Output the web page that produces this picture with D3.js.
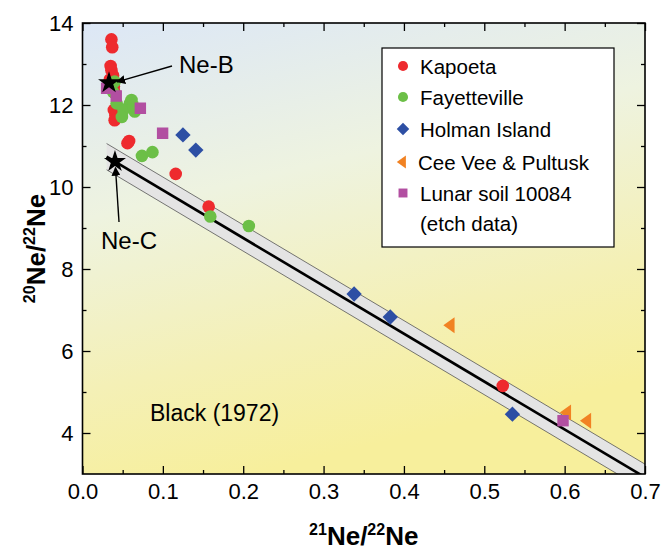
<!DOCTYPE html>
<html><head><meta charset="utf-8">
<script src="https://cdn.jsdelivr.net/npm/d3@7"></script>
<style>body{margin:0;background:#fff}svg{display:block}text{font-family:"Liberation Sans",Arial,sans-serif}</style>
</head><body><svg id="c" width="662" height="550"></svg>
<script>
// ---- data ----
const kapoetaX = [0.036,0.037,0.035,0.036,0.038,0.034,0.039,0.040,0.039,0.041,0.040,0.058,0.056,0.116,0.157,0.523];
const kapoetaY = [13.60,13.41,12.95,12.85,12.72,12.62,12.45,12.30,11.88,11.75,11.63,11.12,11.07,10.32,9.52,5.15];
const fayX = [0.040,0.038,0.0425,0.061,0.059,0.051,0.049,0.065,0.063,0.074,0.087,0.159,0.207];
const fayY = [12.57,12.32,12.04,12.12,12.04,11.88,11.71,11.84,11.98,10.76,10.85,9.28,9.05];
const holmanX = [0.125,0.141,0.338,0.383,0.535];
const holmanY = [11.27,10.90,7.39,6.83,4.46];
const ceeVeeX = [0.457,0.602,0.627];
const ceeVeeY = [6.63,4.50,4.30];
const lunarX = [0.030,0.042,0.072,0.0997,0.598];
const lunarY = [12.41,12.22,11.92,11.31,4.30];
const starNames = ["Ne-B","Ne-C"];
const starX = [0.033,0.0404];
const starY = [12.54,10.62];
const mixLineX = [0.03,0.70];
const mixLineY = [10.74,2.92];
const bandHalf = 0.32;
const xTicks = [0,0.1,0.2,0.3,0.4,0.5,0.6,0.7];
const xMinor = [0.05,0.15,0.25,0.35,0.45,0.55,0.65];
const yTicks = [4,6,8,10,12,14];
const yMinor = [5,7,9,11,13];
const legendLabels = ["Kapoeta","Fayetteville","Holman Island","Cee Vee & Pultusk","Lunar soil 10084","(etch data)"];
const annotation = "Black (1972)";

// ---- drawing ----
const svg = d3.select("#c");
const L=82.5,R=645,T=23,B=474;
const x = d3.scaleLinear().domain([0,0.7]).range([L,R]);
const y = d3.scaleLinear().domain([3,14]).range([B,T]);

const defs = svg.append("defs");
const g = defs.append("linearGradient").attr("id","bg").attr("x1",0).attr("y1",0).attr("x2",0.3).attr("y2",1);
g.append("stop").attr("offset",0).attr("stop-color","#dce7f6");
g.append("stop").attr("offset",0.4).attr("stop-color","#eef3e0");
g.append("stop").attr("offset",0.75).attr("stop-color","#f4f0b6");
g.append("stop").attr("offset",1).attr("stop-color","#f7ef9c");
defs.append("clipPath").attr("id","clip").append("rect").attr("x",L).attr("y",T).attr("width",R-L).attr("height",B-T);
const mk = defs.append("marker").attr("id","arr").attr("viewBox","0 0 10 10").attr("refX",9).attr("refY",5)
  .attr("markerWidth",9).attr("markerHeight",9).attr("markerUnits","userSpaceOnUse").attr("orient","auto");
mk.append("path").attr("d","M0,0L10,5L0,10Z").attr("fill","#000");

svg.append("rect").attr("x",L).attr("y",T).attr("width",R-L).attr("height",B-T).attr("fill","url(#bg)");

const plot = svg.append("g").attr("clip-path","url(#clip)");
// band
const x0=mixLineX[0], x1=mixLineX[1];
const bandPts = [[x0,mixLineY[0]+bandHalf],[x1,mixLineY[1]+bandHalf],[x1,mixLineY[1]-bandHalf],[x0,mixLineY[0]-bandHalf]];
plot.append("path").attr("d","M"+bandPts.map(p=>[x(p[0]),y(p[1])].join(",")).join("L")+"Z")
  .attr("fill","#e4e4e4").attr("stroke","none");
[1,-1].forEach(s=>{
  plot.append("line").attr("x1",x(x0)).attr("y1",y(mixLineY[0]+s*bandHalf)).attr("x2",x(x1)).attr("y2",y(mixLineY[1]+s*bandHalf))
   .attr("stroke","#555").attr("stroke-width",0.8);
});
plot.append("line").attr("x1",x(x0)).attr("y1",y(mixLineY[0])).attr("x2",x(x1)).attr("y2",y(mixLineY[1]))
  .attr("stroke","#000").attr("stroke-width",2.6);

function pts(xs,ys){return xs.map((v,i)=>[v,ys[i]]);}
const sym = {
  circle: d3.symbol().type(d3.symbolCircle).size(125),
  diamond: d3.symbol().type(d3.symbolDiamond2).size(150),
  square: d3.symbol().type(d3.symbolSquare).size(130),
  star: d3.symbol().type(d3.symbolStar).size(150)
};
const tri = s=>`M${-s*0.8},0L${s*0.6},${-s}L${s*0.6},${s}Z`;
function draw(data, path, color, rot){
  plot.append("g").selectAll("path").data(data).join("path")
   .attr("d",path).attr("fill",color)
   .attr("transform",d=>`translate(${x(d[0])},${y(d[1])})`+(rot?` rotate(${rot})`:""));
}
draw(pts(kapoetaX,kapoetaY), sym.circle(), "#ee2a2e");
draw(pts(fayX,fayY), sym.circle(), "#6cbf47");
draw(pts(holmanX,holmanY), sym.diamond(), "#2d4fa4");
draw(pts(ceeVeeX,ceeVeeY), tri(8), "#f18223");
draw(pts(lunarX,lunarY), sym.square(), "#b24fa1");
draw(pts(starX,starY), sym.star(), "#000");

// annotations
svg.append("line").attr("x1",172).attr("y1",66).attr("x2",x(starX[0])+8).attr("y2",y(starY[0])-1)
  .attr("stroke","#000").attr("stroke-width",1.4).attr("marker-end","url(#arr)");
svg.append("text").attr("x",179).attr("y",73).attr("font-size",24).text(starNames[0]);
svg.append("line").attr("x1",119).attr("y1",222).attr("x2",x(starX[1])+0.5).attr("y2",y(starY[1])+6)
  .attr("stroke","#000").attr("stroke-width",1.4).attr("marker-end","url(#arr)");
svg.append("text").attr("x",101).attr("y",249).attr("font-size",24).text(starNames[1]);
svg.append("text").attr("x",150).attr("y",421).attr("font-size",23).text(annotation);

// axes
function ax(axisFn, vals, size, labels, tr){
  const a = axisFn.tickValues(vals).tickSizeInner(size).tickSizeOuter(0).tickPadding(9);
  if(!labels) a.tickFormat("");
  const gg = svg.append("g").attr("transform",tr).call(a);
  gg.select(".domain").remove();
  gg.selectAll("line").attr("stroke","#000").attr("stroke-width",1.3);
  gg.selectAll("text").attr("font-size",22).attr("fill","#000").attr("font-family","Liberation Sans, Arial, sans-serif");
  return gg;
}
ax(d3.axisBottom(x).tickFormat(d3.format(".1f")), xTicks, -8, true, `translate(0,${B})`);
ax(d3.axisBottom(x), xMinor, -4, false, `translate(0,${B})`);
ax(d3.axisTop(x), xTicks, -8, false, `translate(0,${T})`);
ax(d3.axisTop(x), xMinor, -4, false, `translate(0,${T})`);
ax(d3.axisLeft(y).tickFormat(d3.format("d")), yTicks, -8, true, `translate(${L},0)`);
ax(d3.axisLeft(y), yMinor, -4, false, `translate(${L},0)`);
ax(d3.axisRight(y), yTicks, -8, false, `translate(${R},0)`);
ax(d3.axisRight(y), yMinor, -4, false, `translate(${R},0)`);
svg.append("rect").attr("x",L).attr("y",T).attr("width",R-L).attr("height",B-T).attr("fill","none").attr("stroke","#000").attr("stroke-width",1.6);

// axis titles
function title(el, a, b){
  el.attr("font-weight","bold").attr("font-size",26).attr("text-anchor","middle");
  el.append("tspan").attr("font-size",16).attr("dy",-10).text(a[0]);
  el.append("tspan").attr("dy",10).text(a[1]);
  el.append("tspan").attr("font-size",16).attr("dy",-10).text(b[0]);
  el.append("tspan").attr("dy",10).text(b[1]);
}
title(svg.append("text").attr("x",(L+R)/2).attr("y",545), ["21","Ne/"], ["22","Ne"]);
title(svg.append("text").attr("transform",`translate(45,${(T+B)/2}) rotate(-90)`), ["20","Ne/"], ["22","Ne"]);

// legend
const lg = svg.append("g");
lg.append("rect").attr("x",382).attr("y",48).attr("width",232).attr("height",199).attr("fill","#fff").attr("stroke","#000").attr("stroke-width",1.2);
const legSyms = [
  [d3.symbol().type(d3.symbolCircle).size(80)(), "#ee2a2e"],
  [d3.symbol().type(d3.symbolCircle).size(80)(), "#6cbf47"],
  [d3.symbol().type(d3.symbolDiamond2).size(100)(), "#2d4fa4"],
  [tri(6.5), "#f18223"],
  [d3.symbol().type(d3.symbolSquare).size(80)(), "#b24fa1"]
];
const rowY = [66,97,129,162,193,223];
legendLabels.forEach((t,i)=>{
  if(i<legSyms.length) lg.append("path").attr("d",legSyms[i][0]).attr("fill",legSyms[i][1]).attr("transform",`translate(${i===3?402:403},${rowY[i]})`);
  lg.append("text").attr("x",i===3?418:420).attr("y",rowY[i]+7.5).attr("font-size",20.5).text(t);
});
</script></body></html>
